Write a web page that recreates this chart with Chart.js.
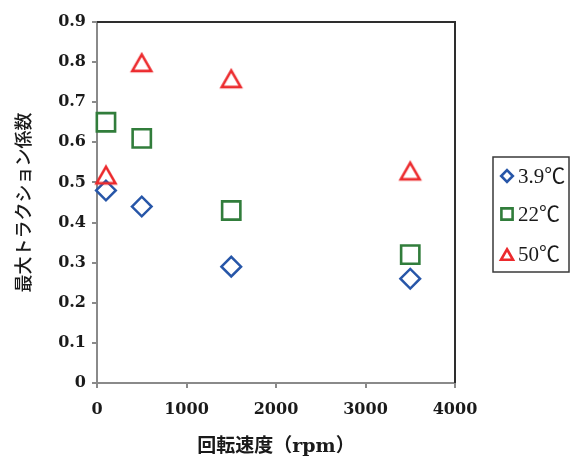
<!DOCTYPE html>
<html><head><meta charset="utf-8">
<script src="https://cdn.jsdelivr.net/npm/chart.js@4.4.1/dist/chart.umd.min.js"></script>
<style>html,body{margin:0;padding:0;background:#fff;}</style>
</head><body>
<canvas id="c" width="574" height="459"></canvas>
<script>
// ---- data ----
const seriesNames = ['3.9℃', '22℃', '50℃'];
const rpm = [100, 500, 1500, 3500];
const coef39 = [0.48, 0.44, 0.29, 0.26];
const coef22 = [0.65, 0.61, 0.43, 0.32];
const coef50 = [0.52, 0.80, 0.76, 0.53];
const xTickLabels = ['0', '1000', '2000', '3000', '4000'];
const yTickLabels = ['0', '0.1', '0.2', '0.3', '0.4', '0.5', '0.6', '0.7', '0.8', '0.9'];
const xTitle = '回転速度（rpm）';
const yTitle = '最大トラクション係数';

// ---- styles ----
const BLUE = '#2756a8', GREEN = '#317d3b', RED = '#ec2a2d';
const AXIS = '#8a8a8a', TEXT = '#1a1a1a';

function triangleCanvas(size, w, h, color, lw) {
  const c = document.createElement('canvas');
  c.width = size; c.height = size;
  const g = c.getContext('2d');
  const cx = size / 2, cy = size / 2 + 0.6;
  g.strokeStyle = color; g.lineWidth = lw; g.lineJoin = 'miter';
  g.beginPath();
  g.moveTo(cx, cy - h / 2);
  g.lineTo(cx + w / 2, cy + h / 2);
  g.lineTo(cx - w / 2, cy + h / 2);
  g.closePath();
  g.stroke();
  return c;
}
const triImg = triangleCanvas(30, 19, 16.5, RED, 2.6);

const pts = (xs, ys) => xs.map((x, i) => ({x, y: ys[i]}));

const frameLines = {
  id: 'frameLines',
  beforeDatasetsDraw(chart) {
    const {ctx, chartArea: a} = chart;
    ctx.save();
    ctx.strokeStyle = '#2e2e2e';
    ctx.lineWidth = 2;
    ctx.beginPath();
    ctx.moveTo(a.left, a.top);
    ctx.lineTo(a.right, a.top);
    ctx.lineTo(a.right, a.bottom);
    ctx.stroke();
    ctx.restore();
  }
};

const boxLegend = {
  id: 'boxLegend',
  afterDraw(chart) {
    const {ctx, chartArea: a} = chart;
    const bx = a.right + 38, by = 157, bw = 76, bh = 115;
    ctx.save();
    ctx.strokeStyle = '#3a3a3a';
    ctx.lineWidth = 1.5;
    ctx.strokeRect(bx, by, bw, bh);
    const rows = [176, 214, 254];
    chart.data.datasets.forEach((ds, i) => {
      const mx = bx + 14, my = rows[i];
      ctx.strokeStyle = ds.borderColor;
      ctx.lineWidth = 2.6;
      ctx.lineJoin = 'miter';
      ctx.beginPath();
      if (ds.markerKind === 'diamond') {
        const r = 5.8;
        ctx.moveTo(mx, my - r); ctx.lineTo(mx + r, my); ctx.lineTo(mx, my + r); ctx.lineTo(mx - r, my); ctx.closePath();
      } else if (ds.markerKind === 'square') {
        const s = 5.6;
        ctx.rect(mx - s, my - s, 2 * s, 2 * s);
      } else {
        const w = 12, h = 10.5;
        ctx.moveTo(mx, my - h / 2 + 0.5); ctx.lineTo(mx + w / 2, my + h / 2 + 0.5); ctx.lineTo(mx - w / 2, my + h / 2 + 0.5); ctx.closePath();
      }
      ctx.stroke();
      ctx.fillStyle = TEXT;
      ctx.font = "21px 'Liberation Serif', 'Noto Sans CJK JP'";
      ctx.textBaseline = 'middle';
      ctx.textAlign = 'left';
      ctx.fillText(ds.label, bx + 25, my + 1);
    });
    ctx.restore();
  }
};

new Chart(document.getElementById('c'), {
  type: 'scatter',
  data: {
    datasets: [
      {label: seriesNames[0], data: pts(rpm, coef39), markerKind: 'diamond', pointStyle: 'rectRot',
       pointRadius: 9.8, pointHoverRadius: 9.8, borderColor: BLUE, backgroundColor: 'rgba(0,0,0,0)', pointBorderWidth: 2.5, order: 2, clip: false},
      {label: seriesNames[1], data: pts(rpm, coef22), markerKind: 'square', pointStyle: 'rect',
       pointRadius: 12.9, pointHoverRadius: 12.9, borderColor: GREEN, backgroundColor: 'rgba(0,0,0,0)', pointBorderWidth: 2.6, order: 1, clip: false},
      {label: seriesNames[2], data: pts(rpm, coef50), markerKind: 'triangle', pointStyle: triImg,
       pointRadius: 11, pointHoverRadius: 11, borderColor: RED, backgroundColor: 'rgba(0,0,0,0)', order: 0, clip: false}
    ]
  },
  options: {
    responsive: false,
    animation: false,
    events: [],
    layout: {padding: {top: 22, right: 119, left: 0, bottom: 0}},
    plugins: {legend: {display: false}, tooltip: {enabled: false}},
    scales: {
      x: {
        type: 'linear', min: 0, max: 4000,
        afterFit(s) { s.height = 76; },
        afterBuildTicks(s) { s.ticks = xTickLabels.map(v => ({value: Number(v)})); },
        ticks: {padding: 12, color: TEXT, font: {family: "'DejaVu Serif'", size: 16, weight: 'bold'},
                callback: (v, i) => xTickLabels[i]},
        grid: {drawOnChartArea: false, drawTicks: true, tickLength: 5, color: AXIS, lineWidth: 2},
        border: {display: true, color: AXIS, width: 2},
        title: {display: true, text: xTitle, color: TEXT, padding: {top: 0, bottom: 1},
                font: {family: "'DejaVu Serif', 'Noto Sans CJK JP'", size: 19, weight: 'bold'}}
      },
      y: {
        type: 'linear', min: 0, max: 0.9,
        afterFit(s) { s.width = 97; },
        afterBuildTicks(s) { s.ticks = yTickLabels.map(v => ({value: Number(v)})); },
        ticks: {padding: 6, color: TEXT, font: {family: "'DejaVu Serif'", size: 16, weight: 'bold'},
                callback: (v, i) => yTickLabels[i]},
        grid: {drawOnChartArea: false, drawTicks: true, tickLength: 5, color: AXIS, lineWidth: 2},
        border: {display: true, color: AXIS, width: 2},
        title: {display: true, text: yTitle, color: TEXT, padding: {top: 12, bottom: 0},
                font: {family: "'Noto Sans CJK JP'", size: 18, weight: '500'}}
      }
    }
  },
  plugins: [frameLines, boxLegend]
});
</script>
</body></html>
